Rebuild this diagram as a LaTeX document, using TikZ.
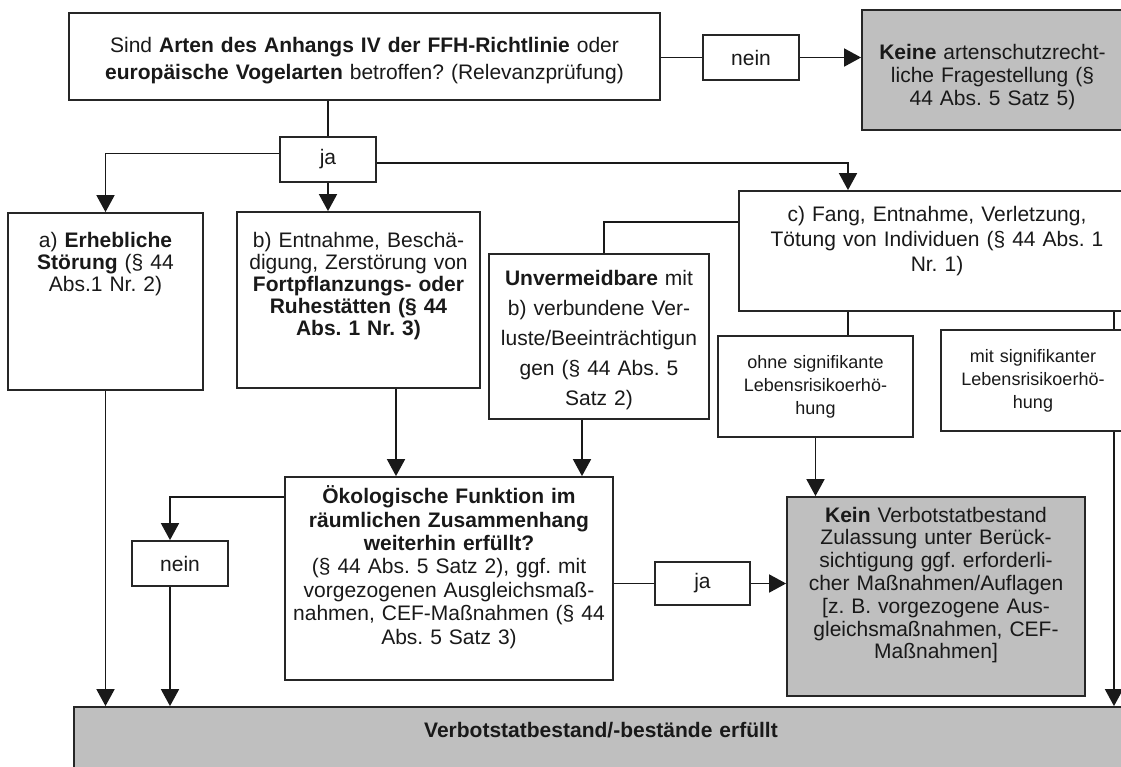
\documentclass[tikz,border=0pt]{standalone}
\usepackage{fontspec}
\setmainfont{Liberation Sans}
\usetikzlibrary{arrows.meta}
\frenchspacing

\tikzset{
  box/.style 2 args={draw=black!85, line width=0.9pt, fill=white, align=center,
    inner sep=0pt, text=black!90, minimum width=#1, text width=#1, minimum height=#2},
  greybox/.style 2 args={box={#1}{#2}, fill=black!25},
  con/.style={line width=0.9pt, draw=black!90},
  arr/.style={con, -{Triangle[length=8.5pt,width=9pt]}},
}

\begin{document}
\begin{tikzpicture}[x=0.5pt, y=-0.5pt, font=\fontsize{10.5}{11}\selectfont]
  \useasboundingbox (0,0) rectangle (1121,767);
  \clip (0,0) rectangle (1121,767);

  % Relevanzpruefung
  \node[box={295.5pt}{43.5pt}, font=\fontsize{10.5}{13.5}\selectfont] (frage) at (364.5,56.5)
    {Sind \textbf{Arten des Anhangs IV der FFH-Richtlinie} oder\\
     \textbf{europäische Vogelarten} betroffen? (Relevanzprüfung)\par\vspace*{-4pt}};
  \node[box={48pt}{22.5pt}] (neinA) at (751,57.5) {nein};
  \node[greybox={130.5pt}{60pt}, font=\fontsize{10.5}{11.5}\selectfont] (keine) at (992.5,70)
    {\textbf{Keine} artenschutzrecht-\\liche Fragestellung (§\\44 Abs. 5 Satz 5)\par\vspace*{-7pt}};
  \node[box={48pt}{22.5pt}] (jaA) at (328,159.5) {ja};

  % Verbotstatbestaende a) b) c)
  \node[box={97.5pt}{88.5pt}] (a) at (105.5,301.5)
    {a) \textbf{Erhebliche}\\ \textbf{Störung} (§ 44\\ Abs.1 Nr. 2)\par\vspace*{37pt}};
  \node[box={121.5pt}{88pt}] (b) at (358.5,300)
    {b) Entnahme, Beschä-\\digung, Zerstörung von\\ \textbf{Fortpflanzungs- oder}\\
     \textbf{Ruhestätten (§ 44}\\ \textbf{Abs. 1 Nr. 3)}\par\vspace*{14pt}};
  \node[box={110pt}{82.5pt}, font=\fontsize{10.5}{15}\selectfont] (unv) at (599,336.5)
    {\textbf{Unvermeidbare} mit\\ b) verbundene Ver-\\luste/Beeinträchtigun\\gen (§ 44 Abs. 5\\ Satz 2)\par\vspace*{-4pt}};
  \node[box={198pt}{60pt}, font=\fontsize{10.5}{12.5}\selectfont] (c) at (937,251)
    {c) Fang, Entnahme, Verletzung,\\ Tötung von Individuen (§ 44 Abs. 1\\ Nr. 1)\par\vspace*{10pt}};
  \node[box={97.5pt}{50.5pt}, font=\fontsize{9}{11.5}\selectfont] (ohne) at (815.5,386.5)
    {ohne signifikante\\ Lebensrisikoerhö-\\hung};
  \node[box={92pt}{50.5pt}, font=\fontsize{9}{11.5}\selectfont] (mit) at (1033,380.5)
    {mit signifikanter\\ Lebensrisikoerhö-\\hung};

  % Pruefung Funktion
  \node[box={164pt}{101.5pt}, font=\fontsize{10.5}{11.7}\selectfont] (oek) at (449,578.5)
    {\textbf{Ökologische Funktion im}\\ \textbf{räumlichen Zusammenhang}\\ \textbf{weiterhin erfüllt?}\\
     (§ 44 Abs. 5 Satz 2), ggf. mit\\ vorgezogenen Ausgleichsmaß-\\nahmen, CEF-Maßnahmen (§ 44\\
     Abs. 5 Satz 3)\par\vspace*{11.5pt}};
  \node[box={48pt}{22.5pt}] (neinB) at (180,563.5) {nein};
  \node[box={47.5pt}{21.5pt}] (jaB) at (702.5,583.5) {ja};
  \node[greybox={149pt}{99.5pt}, font=\fontsize{10.5}{11.4}\selectfont] (kein) at (936,596.5)
    {\textbf{Kein} Verbotstatbestand\\ Zulassung unter Berück-\\sichtigung ggf. erforderli-\\
     cher Maßnahmen/Auflagen\\ {[}z. B. vorgezogene Aus-\\gleichsmaßnahmen, CEF-\\
     Maßnahmen]\par\vspace*{11.5pt}};
  \node[greybox={527pt}{46.5pt}] (verbot) at (601,753.5)
    {\textbf{Verbotstatbestand/-bestände erfüllt}\par\vspace*{23.5pt}};

  % Abzweigpunkte der Linien
  \coordinate (cv) at (848,0);
  \coordinate (rv) at (1114,0);
  \coordinate (bv) at (396,0);
  \coordinate (uv) at (582,0);
  \coordinate (lv) at (170,0);
  \coordinate (uxv) at (604,0);

  \draw[con] (neinA.west -| frage.east) -- (neinA.west);
  \draw[arr] (neinA.east) -- (neinA.east -| keine.west);
  \draw[con] (jaA.north |- frage.south) -- (jaA.north);
  \draw[arr] (jaA.south) -- (jaA.south |- b.north);
  \draw[arr] ([yshift=3pt]jaA.west) -| (a.north);
  \draw[arr] ([yshift=-1.75pt]jaA.east) -| (cv |- c.north);

  \draw[con] ([yshift=14.5pt]c.west) -| (uxv |- unv.north);
  \draw[con] (cv |- c.south) -- (cv |- ohne.north);
  \draw[con] (rv |- c.south) -- (rv |- mit.north);
  \draw[arr] (rv |- mit.south) -- (rv |- verbot.north);
  \draw[arr] (ohne.south) -- (ohne.south |- kein.north);

  \draw[arr] (a.south) -- (a.south |- verbot.north);
  \draw[arr] (bv |- b.south) -- (bv |- oek.north);
  \draw[arr] (uv |- unv.south) -- (uv |- oek.north);
  \draw[arr] ([yshift=40.75pt]oek.west) -| (lv |- neinB.north);
  \draw[arr] (lv |- neinB.south) -- (lv |- verbot.north);
  \draw[con] (jaB.west -| oek.east) -- (jaB.west);
  \draw[arr] (jaB.east) -- (jaB.east -| kein.west);
\end{tikzpicture}
\end{document}
